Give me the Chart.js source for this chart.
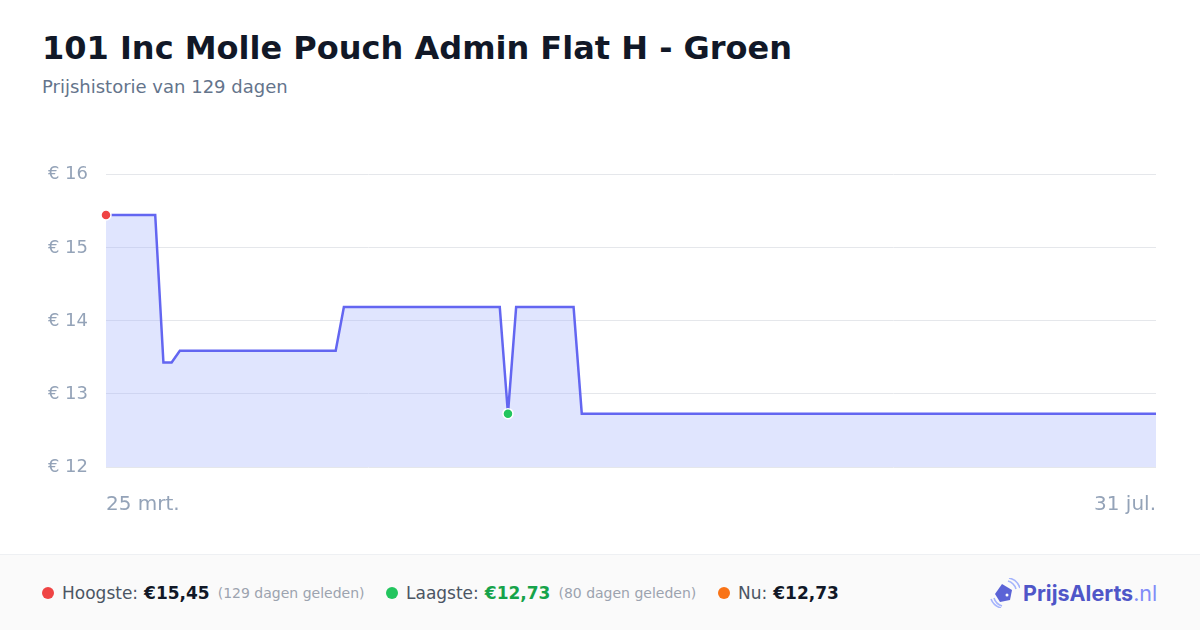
<!DOCTYPE html>
<html><head><meta charset="utf-8">
<script src="https://cdn.jsdelivr.net/npm/chart.js@4/dist/chart.umd.min.js"></script>
<style>
html,body{margin:0;padding:0;width:1200px;height:630px;background:#fff;font-family:"DejaVu Sans",sans-serif;overflow:hidden;position:relative}
#title{position:absolute;left:42px;top:29px;font-size:32px;font-weight:bold;color:#111827;white-space:nowrap}
#sub{position:absolute;left:42px;top:76px;font-size:18px;color:#64748b}
#wrap{position:absolute;left:40px;top:146px;width:1142px;height:371px}
#footer{position:absolute;left:0;top:554px;width:1200px;height:76px;background:#fafafa;border-top:1px solid #eef0f3;box-sizing:border-box}
.item{position:absolute;top:28px;font-size:17px;color:#4b5563;white-space:nowrap;display:flex;align-items:center}
.dot{width:12px;height:12px;border-radius:50%;display:inline-block;margin-right:8px}
.val{font-weight:bold;color:#111827;margin-left:6px}
.ago{font-size:14px;color:#9ca3af;margin-left:8px}
#logo{position:absolute;left:990px;top:578px;display:flex;align-items:center}
#logo .t{font-size:21.5px;font-weight:bold;color:#4f56c8;font-family:"Inter","DejaVu Sans",sans-serif}
#logo .n{font-size:21.5px;color:#818cf8;font-family:"Inter","DejaVu Sans",sans-serif}
</style></head>
<body>
<div id="title">101 Inc Molle Pouch Admin Flat H - Groen</div>
<div id="sub">Prijshistorie van 129 dagen</div>
<div id="wrap"><canvas id="c"></canvas></div>
<div id="footer">
  <div class="item" style="left:42px"><span class="dot" style="background:#ef4444"></span>Hoogste:<span class="val">€15,45</span><span class="ago">(129 dagen geleden)</span></div>
  <div class="item" style="left:386px"><span class="dot" style="background:#22c55e"></span>Laagste:<span class="val" style="color:#16a34a">€12,73</span><span class="ago">(80 dagen geleden)</span></div>
  <div class="item" style="left:718px"><span class="dot" style="background:#f97316"></span>Nu:<span class="val">€12,73</span></div>
</div>
<div id="logo">
  <svg width="30" height="30" viewBox="0 0 30 30" style="margin-right:3px">
    <path d="M4 20 A12 12 0 0 0 12 28" stroke="#a5b4fc" stroke-width="1.6" fill="none"/>
    <path d="M1 21 A15 15 0 0 0 11 30" stroke="#a5b4fc" stroke-width="1.6" fill="none"/>
    <path d="M18 3 A12 12 0 0 1 26 11" stroke="#a5b4fc" stroke-width="1.6" fill="none"/>
    <path d="M19 0 A15 15 0 0 1 30 10" stroke="#a5b4fc" stroke-width="1.6" fill="none"/>
    <path d="M12 6 L22 12 L20 22 L10 24 L5 16 Z" fill="#5b63d6"/>
    <circle cx="17" cy="17" r="1.5" fill="#fff"/>
  </svg>
  <span class="t">PrijsAlerts</span><span class="n">.nl</span>
</div>
<script>
const startLabel = "25 mrt.";
const endLabel = "31 jul.";
const prices = [
15.45,15.45,15.45,15.45,15.45,15.45,15.45,13.43,13.43,13.59,
13.59,13.59,13.59,13.59,13.59,13.59,13.59,13.59,13.59,13.59,
13.59,13.59,13.59,13.59,13.59,13.59,13.59,13.59,13.59,14.19,
14.19,14.19,14.19,14.19,14.19,14.19,14.19,14.19,14.19,14.19,
14.19,14.19,14.19,14.19,14.19,14.19,14.19,14.19,14.19,12.73,
14.19,14.19,14.19,14.19,14.19,14.19,14.19,14.19,12.73,12.73,
12.73,12.73,12.73,12.73,12.73,12.73,12.73,12.73,12.73,12.73,
12.73,12.73,12.73,12.73,12.73,12.73,12.73,12.73,12.73,12.73,
12.73,12.73,12.73,12.73,12.73,12.73,12.73,12.73,12.73,12.73,
12.73,12.73,12.73,12.73,12.73,12.73,12.73,12.73,12.73,12.73,
12.73,12.73,12.73,12.73,12.73,12.73,12.73,12.73,12.73,12.73,
12.73,12.73,12.73,12.73,12.73,12.73,12.73,12.73,12.73,12.73,
12.73,12.73,12.73,12.73,12.73,12.73,12.73,12.73,12.73
];
const yTicks = [12,13,14,15,16];
const highIndex = 0;
const lowIndex = 49;

const labels = prices.map((_, i) => i);
const radii = prices.map((_, i) => (i === highIndex || i === lowIndex) ? 5 : 0);
const colors = prices.map((_, i) => i === highIndex ? '#ef4444' : (i === lowIndex ? '#22c55e' : '#6366f1'));

new Chart(document.getElementById('c'), {
  type: 'line',
  data: {
    labels: labels,
    datasets: [{
      data: prices,
      borderColor: '#6366f1',
      borderWidth: 2.5,
      backgroundColor: 'rgba(165,180,252,0.35)',
      fill: 'start',
      tension: 0,
      pointRadius: radii,
      pointBackgroundColor: colors,
      pointBorderColor: '#ffffff',
      pointBorderWidth: 1.5,
      pointHoverRadius: radii
    }]
  },
  options: {
    responsive: true,
    maintainAspectRatio: false,
    animation: false,
    layout: { padding: { top: 10, right: 0, left: 0, bottom: 0 } },
    plugins: { legend: { display: false }, tooltip: { enabled: false } },
    scales: {
      x: {
        grid: { display: false, drawTicks: false },
        border: { display: false },
        afterFit: s => { s.height = 50; },
        ticks: {
          autoSkip: false,
          maxRotation: 0,
          align: 'inner',
          padding: 26,
          color: '#94a3b8',
          font: { family: 'DejaVu Sans', size: 20 },
          callback: (v, i, arr) => i === 0 ? startLabel : (i === arr.length - 1 ? endLabel : '')
        }
      },
      y: {
        min: 12, max: 16,
        afterFit: s => { s.width = 66; },
        afterBuildTicks: s => { s.ticks = yTicks.map(v => ({ value: v })); },
        grid: { color: '#e5e7eb', drawTicks: false, lineWidth: 1 },
        border: { display: false },
        ticks: {
          padding: 18,
          color: '#94a3b8',
          font: { family: 'DejaVu Sans', size: 18 },
          callback: v => '€ ' + v
        }
      }
    }
  }
});
</script>
</body></html>
